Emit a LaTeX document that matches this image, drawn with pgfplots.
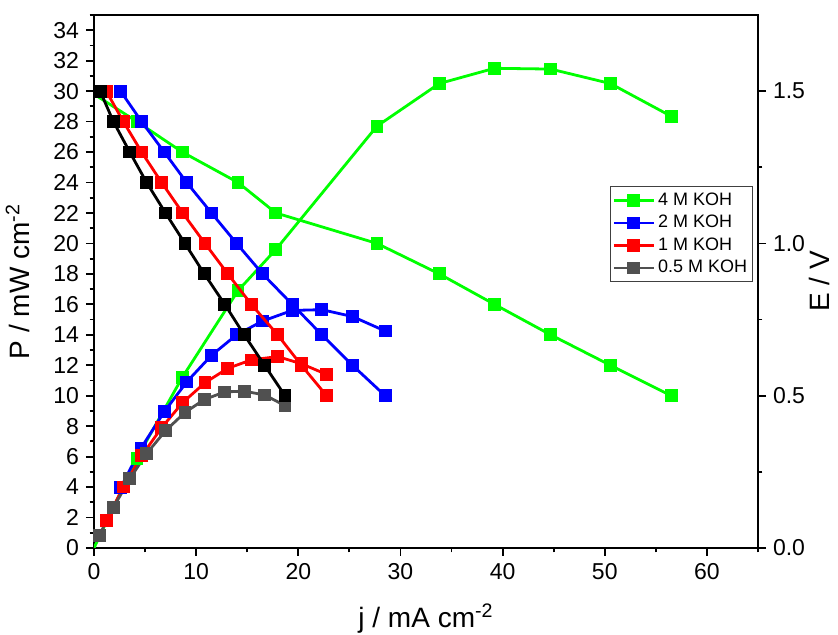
\documentclass[border=0pt]{standalone}
\usepackage{fontspec}
\setmainfont{Liberation Sans}
\usepackage{pgfplots}
\pgfplotsset{compat=1.18}
\definecolor{cgreen}{RGB}{0,255,0}
\definecolor{cblue}{RGB}{0,0,255}
\definecolor{cred}{RGB}{255,0,0}
\definecolor{cgray}{RGB}{80,80,80}

\begin{document}
\begin{tikzpicture}
\pgfplotsset{
  base/.style={
    scale only axis, width=332pt, height=266.5pt,
    at={(0,0)}, anchor=south west,
    xmin=0, xmax=65,
    tick align=outside,
    major tick length=4pt, minor tick length=2.2pt,
    every tick/.style={black, line width=0.9pt},
    axis line style={line width=0.9pt},
    tick label style={font=\fontsize{11.5}{13}\selectfont},
    label style={font=\fontsize{14}{16}\selectfont},
    /pgf/number format/assume math mode=true,
  },
  ser/.style={line width=1.4pt, mark=square*, mark size=2.5pt, color=#1, mark options={fill=#1}},
}
\begin{axis}[base,
    ymin=0, ymax=35,
    ytick={0,2,...,34}, minor ytick={1,3,...,35},
    xtick={0,10,...,60}, minor xtick={5,15,...,65},
    xtick pos=bottom, ytick pos=left,
    xlabel={j / mA cm\textsuperscript{-2}},
    ylabel={P / mW cm\textsuperscript{-2}},
    xlabel style={at={(axis description cs:0.5,-0.150)}, anchor=base},
    ylabel style={at={(axis description cs:-0.1145,0.5)}, anchor=center},
    legend style={at={(rel axis cs:0.992,0.679)}, anchor=north east,
      font=\fontsize{9}{10.5}\selectfont, draw=black!75, line width=0.5pt,
      inner sep=1pt, row sep=-0.5pt, nodes={inner xsep=1.5pt}},
    legend cell align=left,
    legend image code/.code={\draw[mark repeat=2,mark phase=2,#1]
      plot coordinates {(0pt,0pt) (10pt,0pt) (20pt,0pt)};},
  ]
  % power density curves
  \addlegendimage{ser=cgreen}
  \addlegendentry{4 M KOH}
  \addlegendimage{ser=cblue}
  \addlegendentry{2 M KOH}
  \addlegendimage{ser=cred}
  \addlegendentry{1 M KOH}
  \addlegendimage{ser=cgray}
  \addlegendentry{0.5 M KOH}
  \addplot[ser=cgreen, mark indices={2,3,4,5,6,7,8,9,10,11}, forget plot] coordinates {
    (0,0)(4.2,5.9)(8.64,11.2)(14.1,16.9)(17.8,19.6)(27.7,27.7)
    (33.8,30.5)(39.2,31.5)(44.7,31.45)(50.55,30.5)(56.5,28.35)
  };
  \addplot[ser=cblue, forget plot] coordinates {
    (2.6,3.95)(4.6,6.55)(6.88,8.95)(9.07,10.9)(11.5,12.65)(13.96,14.0)
    (16.5,14.9)(19.4,15.6)(22.3,15.65)(25.3,15.2)(28.5,14.25)
  };
  \addplot[ser=cred, forget plot] coordinates {
    (1.2,1.8)(2.87,4.0)(4.66,6.05)(6.62,7.9)(8.68,9.55)(10.86,10.85)
    (13.1,11.8)(15.4,12.35)(17.97,12.57)(20.3,12.1)(22.77,11.4)
  };
  \addplot[ser=cgray, forget plot] coordinates {
    (0.5,0.8)(1.9,2.66)(3.5,4.55)(5.15,6.2)(7.0,7.7)(8.9,8.9)
    (10.8,9.75)(12.8,10.25)(14.7,10.3)(16.7,10.05)(18.7,9.35)
  };
\end{axis}

\begin{axis}[base,
    hide x axis, axis y line*=right,
    ymin=0, ymax=1.75,
    ytick={0,0.5,1,1.5}, minor ytick={0.25,0.75,1.25},
    yticklabel style={/pgf/number format/.cd, fixed, fixed zerofill, precision=1},
    ylabel={E / V},
    ylabel style={at={(axis description cs:1.093,0.5)}, anchor=center},
  ]
  % cell voltage curves
  \addplot[ser=cgreen, mark indices={2,3,4,5,6,7,8,9,10,11}] coordinates {
    (0,1.49)(4.2,1.40)(8.64,1.30)(14.1,1.20)(17.8,1.10)(27.7,1.00)
    (33.8,0.90)(39.2,0.80)(44.7,0.70)(50.55,0.60)(56.5,0.50)
  };
  \addplot[ser=cblue] coordinates {
    (2.6,1.5)(4.66,1.4)(6.88,1.3)(9.07,1.2)(11.5,1.1)(13.96,1.0)
    (16.5,0.9)(19.4,0.8)(22.3,0.7)(25.3,0.6)(28.5,0.5)
  };
  \addplot[ser=cred] coordinates {
    (1.2,1.5)(2.87,1.4)(4.66,1.3)(6.62,1.2)(8.68,1.1)(10.86,1.0)
    (13.1,0.9)(15.4,0.8)(17.97,0.7)(20.3,0.6)(22.77,0.5)
  };
  \addplot[ser=black] coordinates {
    (0.6,1.5)(1.9,1.4)(3.5,1.3)(5.15,1.2)(7.0,1.1)(8.9,1.0)
    (10.8,0.9)(12.8,0.8)(14.7,0.7)(16.7,0.6)(18.7,0.5)
  };
\end{axis}
\pgfresetboundingbox
\path[use as bounding box] (-47pt,-43.5pt) rectangle (372pt,274pt);
\end{tikzpicture}
\end{document}
